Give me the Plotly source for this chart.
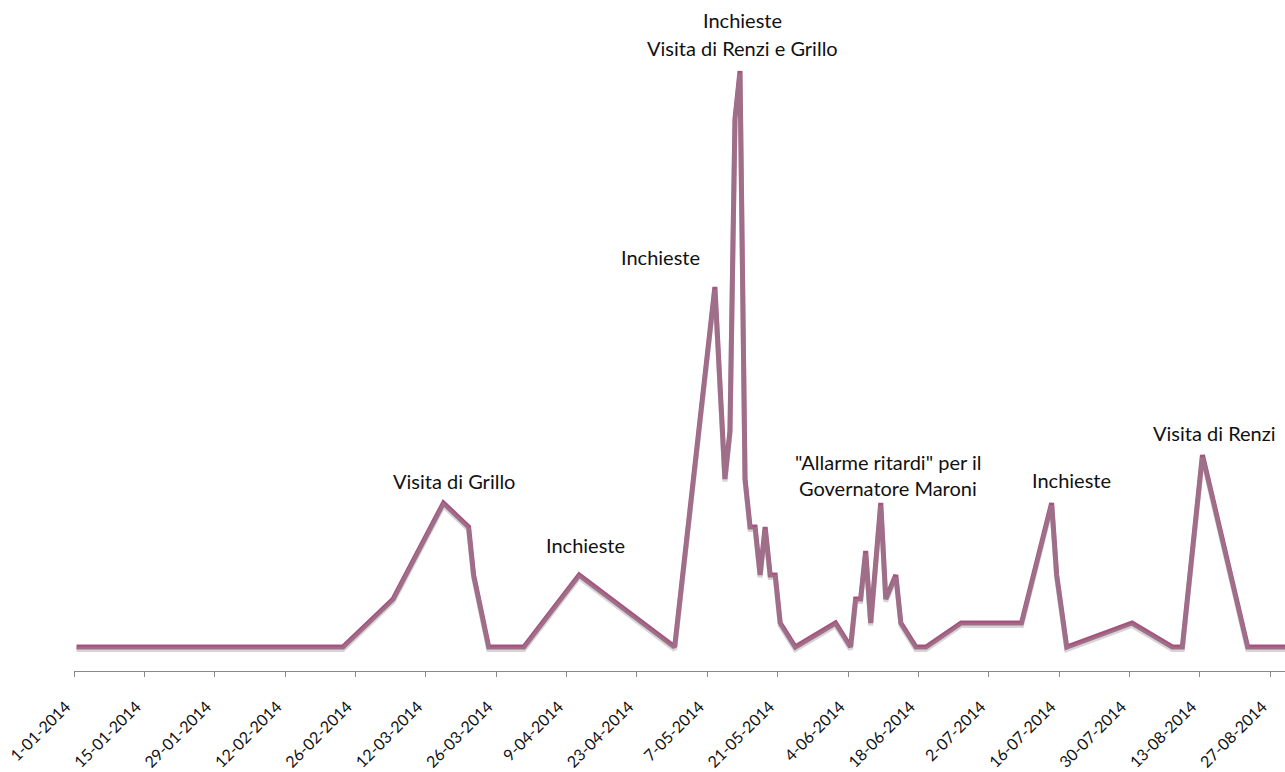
import plotly.graph_objects as go
import datetime as dt

# ---- data ----
dates = [
    "2014-01-01", "2014-01-18", "2014-01-25", "2014-02-23", "2014-03-05",
    "2014-03-15", "2014-03-20", "2014-03-21", "2014-03-24", "2014-03-31",
    "2014-04-11", "2014-04-30", "2014-05-08", "2014-05-09", "2014-05-10",
    "2014-05-11", "2014-05-12", "2014-05-13", "2014-05-14", "2014-05-15",
    "2014-05-16", "2014-05-17", "2014-05-18", "2014-05-19", "2014-05-20",
    "2014-05-21", "2014-05-24", "2014-06-01", "2014-06-04", "2014-06-05",
    "2014-06-06", "2014-06-07", "2014-06-08", "2014-06-10", "2014-06-11",
    "2014-06-13", "2014-06-14", "2014-06-17", "2014-06-19", "2014-06-26",
    "2014-07-08", "2014-07-14", "2014-07-15", "2014-07-17", "2014-07-30",
    "2014-08-07", "2014-08-09", "2014-08-13", "2014-08-22", "2014-08-31",
]
values = [
    1, 1, 1, 1, 3,
    7, 6, 4, 1, 1,
    4, 1, 16, 12, 8,
    10, 23, 25, 8, 6,
    6, 4, 6, 4, 4,
    2, 1, 2, 1, 3,
    3, 5, 2, 7, 3,
    4, 2, 1, 1, 2,
    2, 7, 4, 1, 2,
    1, 1, 9, 1, 1,
]

annotation_texts = [
    "Inchieste",
    "Visita di Renzi e Grillo",
    "Inchieste",
    "Visita di Grillo",
    "Inchieste",
    "\"Allarme ritardi\" per il",
    "Governatore Maroni",
    "Inchieste",
    "Visita di Renzi",
]
# text centres in pixels of the 1285x772 page
annotation_px = [
    (742, 20), (742, 48), (660, 257), (454, 481), (585, 545),
    (888, 462), (888, 488), (1071, 480), (1214, 433),
]

# ---- layout geometry ----
W, H = 1285, 772
ML, MR, MT, MB = 74, 0, 10, 101
PW, PH = W - ML - MR, H - MT - MB
px_per_day = 5.0265
px_per_unit = 24.0
DAY_MS = 86400000

x0 = dt.datetime(2014, 1, 1)
x1 = x0 + dt.timedelta(days=PW / px_per_day)
yr = PH / px_per_unit
shadow_shift = 2.5 / px_per_unit

LINE = "#A6547F"
FONT = "Lato"

fig = go.Figure()
# soft shadow (same data on a slightly shifted overlay axis)
fig.add_trace(go.Scatter(
    x=dates, y=values, mode="lines", xaxis="x", yaxis="y2",
    xperiod=DAY_MS, xperiodalignment="middle",
    line=dict(color="rgba(150,150,150,0.4)", width=5),
    hoverinfo="skip", showlegend=False,
))
fig.add_trace(go.Scatter(
    x=dates, y=values, mode="lines",
    xperiod=DAY_MS, xperiodalignment="middle",
    line=dict(color=LINE, width=5),
    showlegend=False,
))

ann = []
for t, (px, py) in zip(annotation_texts, annotation_px):
    ann.append(dict(
        text=t, xref="paper", yref="paper",
        x=(px - ML) / PW, y=1 - (py - MT) / PH,
        xanchor="center", yanchor="middle", showarrow=False,
        font=dict(family=FONT, size=20, color="#111111"),
    ))

fig.update_layout(
    width=W, height=H,
    margin=dict(l=ML, r=MR, t=MT, b=MB),
    paper_bgcolor="white", plot_bgcolor="white",
    showlegend=False,
    annotations=ann,
    xaxis=dict(
        type="date", range=[x0, x1],
        tick0="2014-01-01", dtick=14 * DAY_MS,
        tickformat="%-d-%m-%Y", tickangle=-45,
        ticks="outside", ticklen=5, tickcolor="#888888",
        ticklabelstandoff=14, ticklabelshift=-8,
        showline=True, linecolor="#888888", linewidth=1,
        showgrid=False, zeroline=False,
        tickfont=dict(family=FONT, size=16, color="#111111"),
    ),
    yaxis=dict(range=[0, yr], visible=False, showgrid=False, zeroline=False),
    yaxis2=dict(range=[shadow_shift, yr + shadow_shift], overlaying="y",
                visible=False, showgrid=False, zeroline=False),
)

fig.write_html(
    "out.html",
    config={"displayModeBar": False},
    post_script="document.body.style.margin='0';document.body.style.overflow='hidden';",
)
